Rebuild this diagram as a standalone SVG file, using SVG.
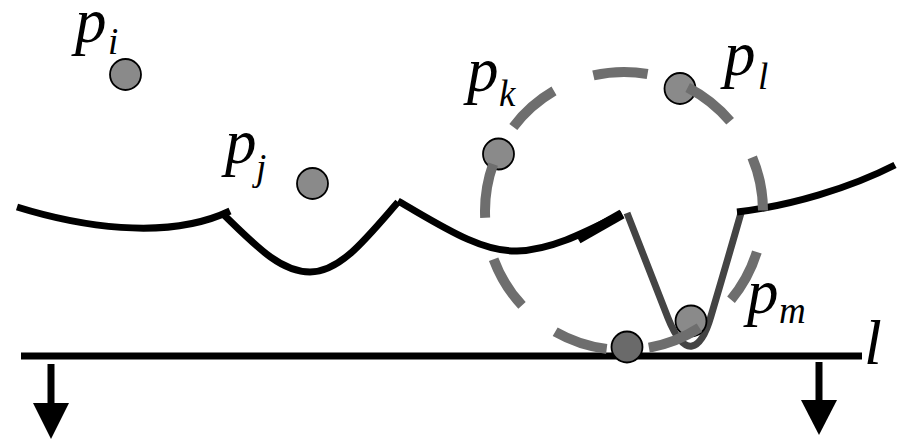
<svg xmlns="http://www.w3.org/2000/svg" width="897" height="441" viewBox="0 0 897 441">
<style>
.curve{fill:none;stroke:#000;stroke-width:7;stroke-linejoin:round}
.vcurve{fill:none;stroke:#444;stroke-width:7;stroke-linejoin:round}
.pt{fill:#8a8a8a;stroke:#000;stroke-width:1.8}
.ptd{fill:#6a6a6a;stroke:#000;stroke-width:1.8}
.lbl{font-family:"Liberation Serif","DejaVu Serif",serif;font-style:italic;font-size:63px;fill:#000}
.sub{font-family:"Liberation Serif","DejaVu Serif",serif;font-style:italic;font-size:37px;fill:#000}
.dash{fill:none;stroke:#6e6e6e;stroke-width:10;stroke-dasharray:54.6 42.45;stroke-dashoffset:55.5}
</style>
<rect width="897" height="441" fill="#fff"/>
<g id="connectors">
<path class="curve" d="M17,207 C75,225 165,242 230,211"/>
<path class="curve" d="M223,214 C255,245 280,272 310,272 C340,272 365,240 398,202"/>
<path class="curve" d="M398,201 C440,225 480,252 517,251 C550,250 580,235 622,214"/>
<path d="M578,239 L622,214" stroke="#000" stroke-width="10" fill="none"/>
<path class="vcurve" d="M627,213 L668,318 Q680,348 692,346 Q703,344 711,316 Q727,262 741,213"/>
<path class="curve" d="M737,212 C790,206 850,188 895,165"/>
<line x1="21" y1="356" x2="862" y2="356" stroke="#000" stroke-width="7"/>
<line x1="51" y1="364" x2="51" y2="405" stroke="#000" stroke-width="7"/>
<polygon points="33,403 69,403 51,439" fill="#000"/>
<line x1="819" y1="362" x2="819" y2="402" stroke="#000" stroke-width="7"/>
<polygon points="801,400 837,400 819,435" fill="#000"/>
</g>
<g id="pi"><circle class="pt" cx="125.5" cy="74.5" r="15.5"/><text class="lbl" x="75" y="42">p</text><text class="sub" x="108" y="54">i</text></g>
<g id="pj"><circle class="pt" cx="312.5" cy="183.5" r="15.5"/><text class="lbl" x="225" y="163">p</text><text class="sub" x="256" y="180">j</text></g>
<g id="pk"><circle class="pt" cx="498.5" cy="154" r="15.5"/><text class="lbl" x="467" y="91">p</text><text class="sub" x="499" y="106">k</text></g>
<g id="pl"><circle class="pt" cx="680" cy="88.5" r="15.5"/><text class="lbl" x="724" y="75">p</text><text class="sub" x="758" y="89">l</text></g>
<g id="pm"><circle class="pt" cx="691" cy="321" r="15.5"/><text class="lbl" x="747" y="313">p</text><text class="sub" x="779" y="323">m</text></g>
<g id="circle"><circle class="dash" cx="624" cy="211" r="139"/></g>
<g id="contact"><circle class="ptd" cx="627" cy="347" r="15.5"/></g>
<g id="label-l"><text class="lbl" x="864" y="364" style="font-size:64px">l</text></g>
</svg>
